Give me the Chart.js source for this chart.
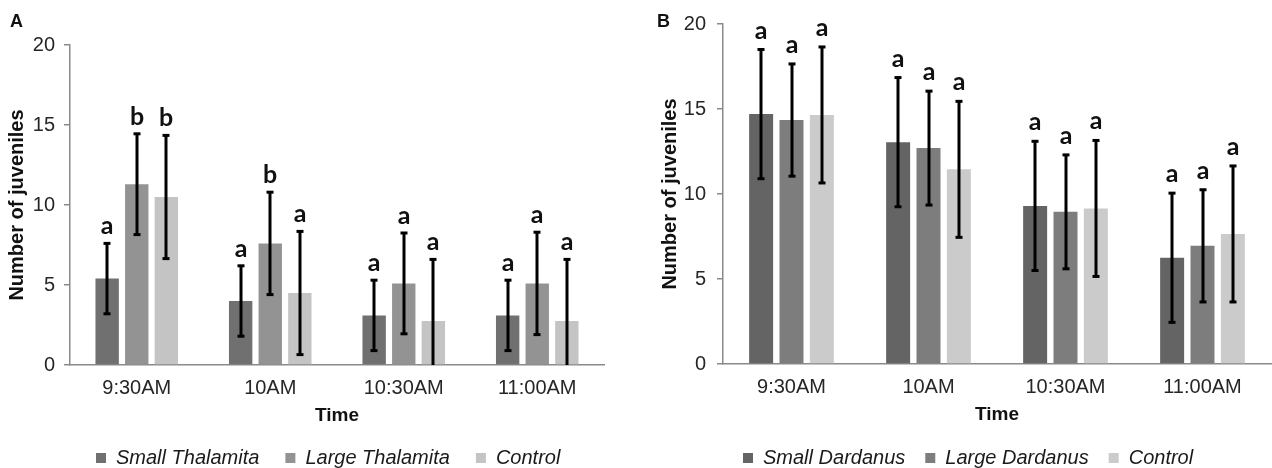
<!DOCTYPE html>
<html>
<head>
<meta charset="utf-8">
<title>Number of juveniles over time</title>
<script src="https://cdn.jsdelivr.net/npm/chart.js@4.4.1/dist/chart.umd.min.js"></script>
<style>
  html, body { margin: 0; padding: 0; background: #fff; width: 1272px; height: 468px; overflow: hidden; }
  canvas { position: absolute; top: 0; }
  #chartA { left: 0; }
  #chartB { left: 640px; }
</style>
</head>
<body>
<canvas id="chartA" width="620" height="478"></canvas>
<canvas id="chartB" width="632" height="478"></canvas>
<script>
// categorias e ticks
const times = ['9:30AM', '10AM', '10:30AM', '11:00AM'];
const yTicks = [0, 5, 10, 15, 20];

// painel A - Thalamita
const smallThalamita = [5.4, 4.0, 3.1, 3.1];
const largeThalamita = [11.3, 7.6, 5.1, 5.1];
const controlA = [10.5, 4.5, 2.75, 2.75];
const smallThalamitaErr = [2.2, 2.2, 2.2, 2.2];
const largeThalamitaErr = [3.15, 3.2, 3.15, 3.2];
const controlAErr = [3.85, 3.85, 3.85, 3.85];
const smallThalamitaSig = ['a', 'a', 'a', 'a'];
const largeThalamitaSig = ['b', 'b', 'a', 'a'];
const controlASig = ['b', 'a', 'a', 'a'];

// painel B - Dardanus
const smallDardanus = [14.7, 13.05, 9.3, 6.25];
const largeDardanus = [14.35, 12.7, 8.95, 6.95];
const controlB = [14.65, 11.45, 9.15, 7.65];
const smallDardanusErr = [3.8, 3.8, 3.8, 3.8];
const largeDardanusErr = [3.3, 3.35, 3.35, 3.3];
const controlBErr = [4.0, 4.0, 4.0, 4.0];
const smallDardanusSig = ['a', 'a', 'a', 'a'];
const largeDardanusSig = ['a', 'a', 'a', 'a'];
const controlBSig = ['a', 'a', 'a', 'a'];

Chart.defaults.font.family = "'Liberation Sans', Arial, sans-serif";
Chart.defaults.color = '#262626';

// barras de erro + letras de significancia
const errorBars = {
  id: 'errorBars',
  afterDatasetsDraw(chart, args, opts) {
    const { ctx } = chart;
    const y = chart.scales.y;
    ctx.save();
    chart.data.datasets.forEach((ds, i) => {
      const meta = chart.getDatasetMeta(i);
      meta.data.forEach((bar, j) => {
        const v = ds.data[j];
        const e = ds.errors[j];
        const x = Math.round(bar.x);
        const yTop = y.getPixelForValue(v + e);
        const low = v - e;
        const yBot = y.getPixelForValue(Math.max(low, 0));
        ctx.strokeStyle = '#000';
        ctx.lineWidth = 3;
        ctx.beginPath();
        ctx.moveTo(x, yTop);
        ctx.lineTo(x, yBot);
        ctx.stroke();
        ctx.fillStyle = '#000';
        ctx.fillRect(x - 3.5, yTop - 1.5, 7, 3);
        if (low > 0) ctx.fillRect(x - 3.5, yBot - 1.5, 7, 3);
        // letra
        ctx.font = "bold 25px Lato, 'Liberation Sans', sans-serif";
        ctx.textAlign = 'center';
        ctx.textBaseline = 'alphabetic';
        ctx.fillStyle = '#111';
        ctx.fillText(ds.letters[j], x, yTop - opts.gap);
      });
    });
    // letra do painel
    ctx.font = "bold 18px 'Liberation Sans', Arial, sans-serif";
    ctx.textAlign = 'left';
    ctx.fillStyle = '#111';
    ctx.fillText(opts.panel, opts.panelX, 27);
    ctx.restore();
  }
};

function montarPainel(id, cfg) {
  const ctx = document.getElementById(id).getContext('2d');
  return new Chart(ctx, {
    type: 'bar',
    data: {
      labels: times,
      datasets: cfg.series.map(s => ({
        label: s.label,
        data: s.data,
        errors: s.errors,
        letters: s.letters,
        backgroundColor: s.color,
        borderWidth: 0,
        categoryPercentage: 0.665,
        barPercentage: 0.79
      }))
    },
    options: {
      responsive: false,
      animation: false,
      layout: { padding: { top: cfg.padTop, right: cfg.padRight, left: 0, bottom: 0 } },
      plugins: {
        legend: {
          position: 'bottom',
          fullSize: false,
          align: 'start',
          labels: {
            boxWidth: 10,
            boxHeight: 10,
            padding: cfg.legendPad,
            color: '#1a1a1a',
            font: { size: 20, style: 'italic' }
          }
        },
        tooltip: { enabled: false },
        errorBars: { gap: cfg.letterGap, panel: cfg.panel, panelX: cfg.panelX }
      },
      scales: {
        x: {
          grid: { display: false, drawTicks: false },
          border: { color: '#8a8a8a', width: 1.5 },
          ticks: { padding: 11, font: { size: 20 } },
          title: {
            display: true,
            text: 'Time',
            color: '#111',
            font: { size: 19, weight: 'bold' },
            padding: { top: 0, bottom: cfg.timePad }
          },
          afterFit: s => { s.height = cfg.xHeight; }
        },
        y: {
          min: 0,
          max: 20,
          afterBuildTicks: s => { s.ticks = yTicks.map(v => ({ value: v })); },
          grid: { display: true, drawOnChartArea: false, drawTicks: true, tickLength: 6, color: '#8a8a8a', lineWidth: 1.5 },
          border: { color: '#8a8a8a', width: 1.5 },
          ticks: { padding: cfg.yTickPad, font: { size: 20 } },
          title: {
            display: true,
            text: 'Number of juveniles',
            color: '#111',
            font: { size: 20, weight: 'bold' },
            padding: { top: cfg.yTitlePad, bottom: 0 }
          },
          afterFit: s => { s.width = cfg.yWidth; }
        }
      }
    },
    plugins: [errorBars]
  });
}

montarPainel('chartA', {
  panel: 'A', panelX: 10,
  padTop: 45, padRight: 16,
  yWidth: 70, yTickPad: 9, yTitlePad: 5,
  xHeight: 57, timePad: -5.4,
  legendPad: 26, letterGap: 9,
  series: [
    { label: 'Small Thalamita', data: smallThalamita, errors: smallThalamitaErr, letters: smallThalamitaSig, color: '#707070' },
    { label: 'Large Thalamita', data: largeThalamita, errors: largeThalamitaErr, letters: largeThalamitaSig, color: '#939393' },
    { label: 'Control', data: controlA, errors: controlAErr, letters: controlASig, color: '#c4c4c4' }
  ]
});

montarPainel('chartB', {
  panel: 'B', panelX: 17,
  padTop: 24, padRight: 1,
  yWidth: 83, yTickPad: 11, yTitlePad: 18,
  xHeight: 64, timePad: 1.6,
  legendPad: 20, letterGap: 11,
  series: [
    { label: 'Small Dardanus', data: smallDardanus, errors: smallDardanusErr, letters: smallDardanusSig, color: '#646464' },
    { label: 'Large Dardanus', data: largeDardanus, errors: largeDardanusErr, letters: largeDardanusSig, color: '#7d7d7d' },
    { label: 'Control', data: controlB, errors: controlBErr, letters: controlBSig, color: '#cbcbcb' }
  ]
});
</script>
</body>
</html>
